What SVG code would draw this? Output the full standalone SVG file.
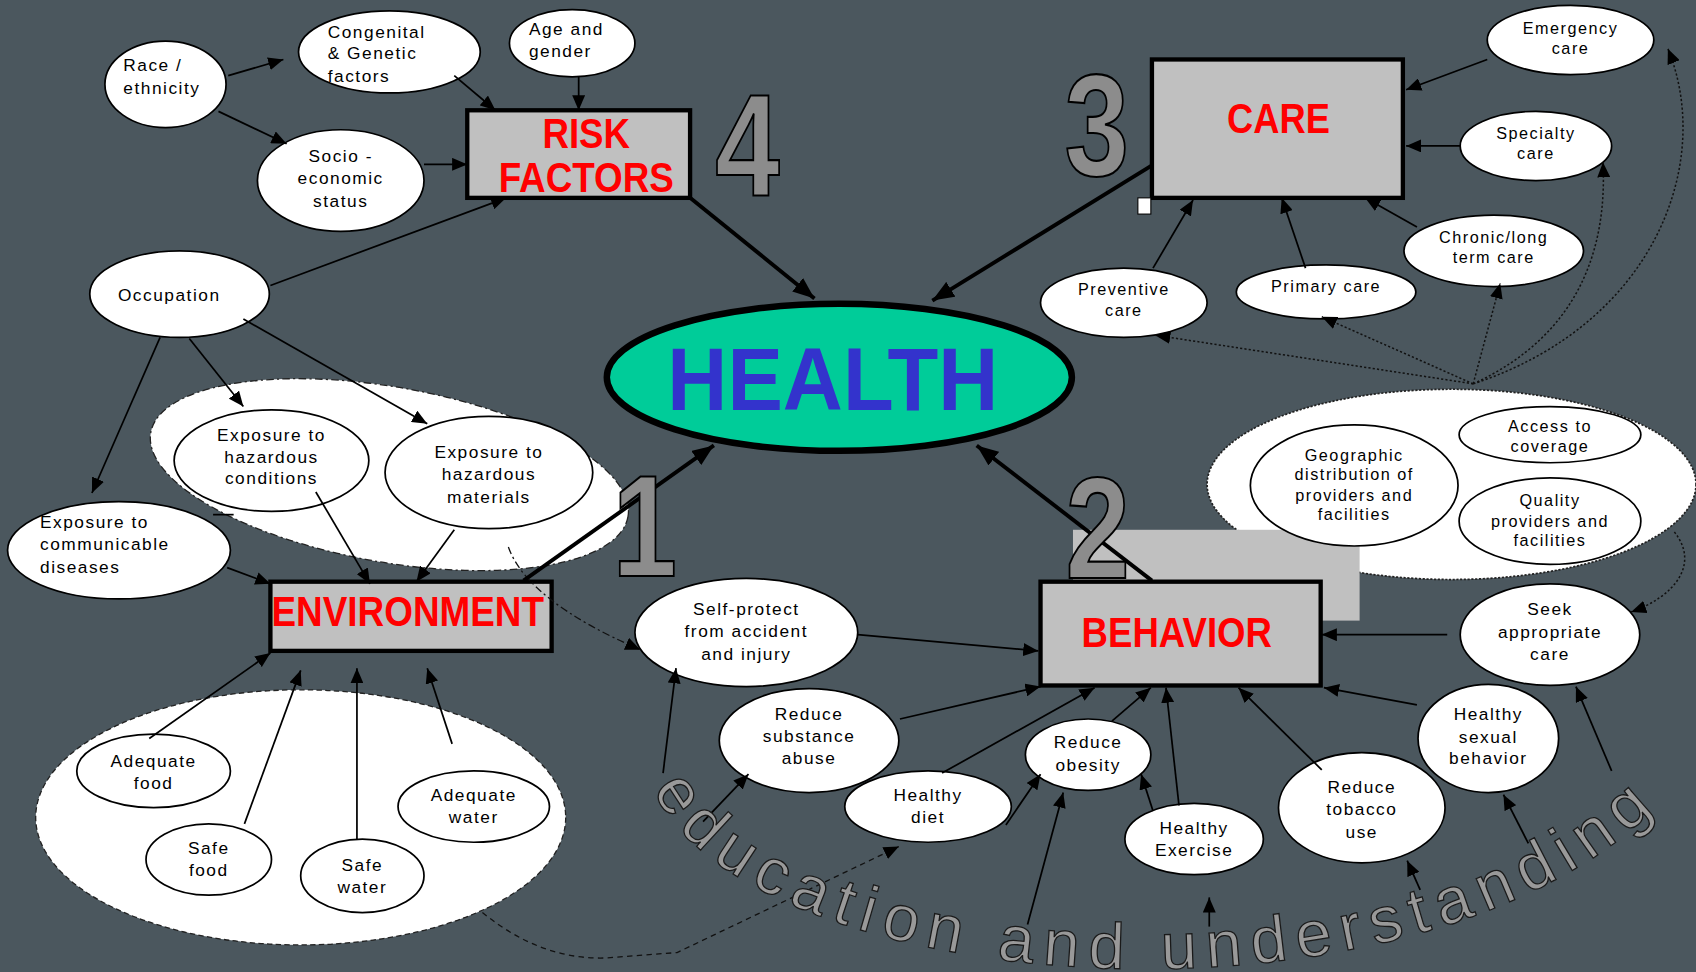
<svg xmlns="http://www.w3.org/2000/svg" width="1696" height="972" viewBox="0 0 1696 972">
<defs>
<style>
.n{fill:#fff;stroke:#000;stroke-width:1.6}
.t{font-family:"Liberation Sans",Arial,sans-serif;font-size:16px;letter-spacing:1.4px;fill:#000}
.tr{font-family:"Liberation Sans",Arial,sans-serif;font-size:15px;letter-spacing:1.4px;fill:#000}
.m{text-anchor:middle}
.box{fill:#c0c0c0;stroke:#000;stroke-width:4}
.bt{font-family:"Liberation Sans",Arial,sans-serif;font-weight:bold;font-size:40px;fill:#ff0000;text-anchor:middle}
.num{font-family:"Liberation Sans",Arial,sans-serif;font-weight:bold;font-size:134px;fill:#8c8c8c;stroke:#000;stroke-width:2;text-anchor:middle}
.c{fill:none;stroke:#000;stroke-width:1.6}
.ck{fill:none;stroke:#000;stroke-width:3.6}
.dot{fill:none;stroke:#111;stroke-width:1.4;stroke-dasharray:2 2}
.dash{fill:none;stroke:#111;stroke-width:1.2;stroke-dasharray:5 4}
.dd{fill:none;stroke:#111;stroke-width:1.2;stroke-dasharray:7 3 2 3}
</style>
<marker id="a" viewBox="0 0 14 12" refX="14" refY="6" markerWidth="14" markerHeight="12" markerUnits="userSpaceOnUse" orient="auto"><path d="M0,0 L14,6 L0,12 z" fill="#000"/></marker>
<marker id="b" viewBox="0 0 20 16" refX="20" refY="8" markerWidth="20" markerHeight="16" markerUnits="userSpaceOnUse" orient="auto"><path d="M0,0 L20,8 L0,16 z" fill="#000"/></marker>
<path id="arc" d="M604,730 C690,925 1330,978 1552,726"/>
</defs>
<rect width="1696" height="972" fill="#4b575e"/>
<g transform="scale(1.08163,1.0812)">

<g id="groups">
<ellipse cx="360" cy="439" rx="224" ry="81" transform="rotate(10 360 439)" fill="#fff" stroke="#222" stroke-width="1.2" stroke-dasharray="7 3 2 3"/>
<ellipse cx="278" cy="756" rx="245" ry="118" fill="#fff" stroke="#222" stroke-width="1.2" stroke-dasharray="5 3"/>
<ellipse cx="1342" cy="448" rx="226" ry="88" fill="#fff" stroke="#222" stroke-width="1.6" stroke-dasharray="2 1.5"/>
<rect x="992" y="490" width="265" height="84" fill="#c0c0c0"/>
</g>

<g id="health">
<ellipse cx="776" cy="349" rx="215" ry="68" fill="#00cc99" stroke="#000" stroke-width="6"/>
<text x="770" y="379" font-family="Liberation Sans,Arial,sans-serif" font-weight="bold" font-size="82" fill="#3333cc" text-anchor="middle" textLength="306" lengthAdjust="spacingAndGlyphs">HEALTH</text>
</g>

<g id="riskfactors">
<rect class="box" x="432" y="102" width="206" height="81"/>
<text class="bt" x="542" y="137" textLength="81" lengthAdjust="spacingAndGlyphs">RISK</text>
<text class="bt" x="542" y="178" textLength="162" lengthAdjust="spacingAndGlyphs">FACTORS</text>
</g>
<g id="environment">
<rect class="box" x="250" y="538" width="260" height="64"/>
<text class="bt" x="377" y="579" textLength="252" lengthAdjust="spacingAndGlyphs">ENVIRONMENT</text>
</g>
<g id="care">
<rect class="box" x="1065" y="55" width="232" height="128"/>
<text class="bt" x="1182" y="123" textLength="95" lengthAdjust="spacingAndGlyphs">CARE</text>
<rect x="1052" y="183" width="12" height="15" fill="#fff" stroke="#000" stroke-width="1"/>
</g>
<g id="behavior">
<rect class="box" x="962" y="538" width="259" height="96"/>
<text class="bt" x="1088" y="598" textLength="176" lengthAdjust="spacingAndGlyphs">BEHAVIOR</text>
</g>

<g id="race"><ellipse class="n" cx="153" cy="78" rx="56" ry="40"/><text class="t" x="114" y="66">Race /</text><text class="t" x="114" y="87">ethnicity</text></g>
<g id="congenital"><ellipse class="n" cx="360" cy="48" rx="84" ry="38"/><text class="t" x="303" y="35">Congenital</text><text class="t" x="303" y="55">&amp; Genetic</text><text class="t" x="303" y="76">factors</text></g>
<g id="age"><ellipse class="n" cx="529" cy="40" rx="58" ry="31"/><text class="t" x="489" y="32">Age and</text><text class="t" x="489" y="53">gender</text></g>
<g id="socio"><ellipse class="n" cx="315" cy="167" rx="77" ry="47"/><text class="t m" x="315" y="150">Socio -</text><text class="t m" x="315" y="170">economic</text><text class="t m" x="315" y="191">status</text></g>
<g id="occupation"><ellipse class="n" cx="166" cy="272" rx="83" ry="40"/><text class="t" x="109" y="278">Occupation</text></g>
<g id="hazcond"><ellipse class="n" cx="251" cy="426" rx="90" ry="47"/><text class="t m" x="251" y="408">Exposure to</text><text class="t m" x="251" y="428">hazardous</text><text class="t m" x="251" y="448">conditions</text></g>
<g id="hazmat"><ellipse class="n" cx="452" cy="437" rx="96" ry="52"/><text class="t m" x="452" y="424">Exposure to</text><text class="t m" x="452" y="444">hazardous</text><text class="t m" x="452" y="465">materials</text></g>
<g id="communicable"><ellipse class="n" cx="110" cy="509" rx="103" ry="45"/><text class="t" x="37" y="488">Exposure to</text><text class="t" x="37" y="509">communicable</text><text class="t" x="37" y="530">diseases</text></g>
<g id="adfood"><ellipse class="n" cx="142" cy="713" rx="71" ry="34"/><text class="t m" x="142" y="709">Adequate</text><text class="t m" x="142" y="730">food</text></g>
<g id="safefood"><ellipse class="n" cx="193" cy="795" rx="58" ry="33"/><text class="t m" x="193" y="790">Safe</text><text class="t m" x="193" y="810">food</text></g>
<g id="safewater"><ellipse class="n" cx="335" cy="810" rx="57" ry="34"/><text class="t m" x="335" y="806">Safe</text><text class="t m" x="335" y="826">water</text></g>
<g id="adwater"><ellipse class="n" cx="438" cy="746" rx="70" ry="33"/><text class="t m" x="438" y="741">Adequate</text><text class="t m" x="438" y="761">water</text></g>
<g id="selfprotect"><ellipse class="n" cx="690" cy="585" rx="103" ry="50"/><text class="t m" x="690" y="569">Self-protect</text><text class="t m" x="690" y="589">from accident</text><text class="t m" x="690" y="610">and injury</text></g>
<g id="substance"><ellipse class="n" cx="748" cy="685" rx="83" ry="48"/><text class="t m" x="748" y="666">Reduce</text><text class="t m" x="748" y="686">substance</text><text class="t m" x="748" y="707">abuse</text></g>
<g id="diet"><ellipse class="n" cx="858" cy="746" rx="77" ry="33"/><text class="t m" x="858" y="741">Healthy</text><text class="t m" x="858" y="761">diet</text></g>
<g id="obesity"><ellipse class="n" cx="1006" cy="698" rx="58" ry="33"/><text class="t m" x="1006" y="692">Reduce</text><text class="t m" x="1006" y="713">obesity</text></g>
<g id="exercise"><ellipse class="n" cx="1104" cy="776" rx="64" ry="33"/><text class="t m" x="1104" y="771">Healthy</text><text class="t m" x="1104" y="792">Exercise</text></g>
<g id="tobacco"><ellipse class="n" cx="1259" cy="747" rx="77" ry="51"/><text class="t m" x="1259" y="733">Reduce</text><text class="t m" x="1259" y="754">tobacco</text><text class="t m" x="1259" y="775">use</text></g>
<g id="sexual"><ellipse class="n" cx="1376" cy="683" rx="65" ry="50"/><text class="t m" x="1376" y="666">Healthy</text><text class="t m" x="1376" y="687">sexual</text><text class="t m" x="1376" y="707">behavior</text></g>
<g id="seek"><ellipse class="n" cx="1433" cy="587" rx="83" ry="47"/><text class="t m" x="1433" y="569">Seek</text><text class="t m" x="1433" y="590">appropriate</text><text class="t m" x="1433" y="610">care</text></g>
<g id="geographic"><ellipse class="n" cx="1252" cy="449" rx="96" ry="56"/><text class="tr m" x="1252" y="426">Geographic</text><text class="tr m" x="1252" y="444">distribution of</text><text class="tr m" x="1252" y="463">providers and</text><text class="tr m" x="1252" y="481">facilities</text></g>
<g id="access"><ellipse class="n" cx="1433" cy="402" rx="84" ry="26"/><text class="tr m" x="1433" y="400">Access to</text><text class="tr m" x="1433" y="418">coverage</text></g>
<g id="quality"><ellipse class="n" cx="1433" cy="482" rx="84" ry="40"/><text class="tr m" x="1433" y="468">Quality</text><text class="tr m" x="1433" y="487">providers and</text><text class="tr m" x="1433" y="505">facilities</text></g>
<g id="emergency"><ellipse class="n" cx="1452" cy="37" rx="77" ry="32"/><text class="tr m" x="1452" y="31">Emergency</text><text class="tr m" x="1452" y="50">care</text></g>
<g id="specialty"><ellipse class="n" cx="1420" cy="135" rx="70" ry="32"/><text class="tr m" x="1420" y="129">Specialty</text><text class="tr m" x="1420" y="147">care</text></g>
<g id="chronic"><ellipse class="n" cx="1381" cy="232" rx="83" ry="33"/><text class="tr m" x="1381" y="225">Chronic/long</text><text class="tr m" x="1381" y="243">term care</text></g>
<g id="primary"><ellipse class="n" cx="1226" cy="270" rx="83" ry="25"/><text class="tr m" x="1226" y="270">Primary care</text></g>
<g id="preventive"><ellipse class="n" cx="1039" cy="280" rx="77" ry="32"/><text class="tr m" x="1039" y="273">Preventive</text><text class="tr m" x="1039" y="292">care</text></g>

<g id="connectors">
<path class="c" d="M211,70 L262,55" marker-end="url(#a)"/>
<path class="c" d="M202,103 L265,133" marker-end="url(#a)"/>
<path class="c" d="M420,70 L458,102" marker-end="url(#a)"/>
<path class="c" d="M535,71 L535,102" marker-end="url(#a)"/>
<path class="c" d="M392,152 L432,152" marker-end="url(#a)"/>
<path class="c" d="M250,264 L468,183" marker-end="url(#a)"/>
<path class="c" d="M148,312 L85,456" marker-end="url(#a)"/>
<path class="c" d="M175,313 L225,376" marker-end="url(#a)"/>
<path class="c" d="M225,295 L395,392" marker-end="url(#a)"/>
<path class="c" d="M197,476 L216,476" stroke-width="2.5"/>
<path class="c" d="M210,525 L250,540" marker-end="url(#a)"/>
<path class="c" d="M292,455 L342,540" marker-end="url(#a)"/>
<path class="c" d="M420,490 L385,538" marker-end="url(#a)"/>
<path class="c" d="M138,683 L250,604" marker-end="url(#a)"/>
<path class="c" d="M226,762 L278,620" marker-end="url(#a)"/>
<path class="c" d="M330,777 L330,618" marker-end="url(#a)"/>
<path class="c" d="M418,688 L395,618" marker-end="url(#a)"/>
<path class="dd" d="M470,506 Q488,556 592,601" marker-end="url(#a)"/>
<path class="dash" d="M446,844 Q500,888 560,886 L626,881 L831,783" marker-end="url(#a)"/>
<path class="c" d="M1375,55 L1300,83" marker-end="url(#a)"/>
<path class="c" d="M1350,135 L1300,135" marker-end="url(#a)"/>
<path class="c" d="M1310,210 L1262,183" marker-end="url(#a)"/>
<path class="c" d="M1207,248 L1185,183" marker-end="url(#a)"/>
<path class="c" d="M1066,248 L1103,185" marker-end="url(#a)"/>
<path class="dot" d="M1362,355 L1068,310" marker-end="url(#a)"/>
<path class="dot" d="M1362,355 L1222,293" marker-end="url(#a)"/>
<path class="dot" d="M1362,355 L1387,262" marker-end="url(#a)"/>
<path class="dot" d="M1362,355 C1460,310 1486,230 1482,150" marker-end="url(#a)"/>
<path class="dot" d="M1362,355 C1530,300 1585,150 1542,45" marker-end="url(#a)"/>
<path class="dot" d="M1548,492 C1572,522 1548,552 1508,566" marker-end="url(#a)"/>
<path class="c" d="M1338,587 L1222,587" marker-end="url(#a)"/>
<path class="c" d="M793,587 L960,602" marker-end="url(#a)"/>
<path class="c" d="M613,715 L625,618" marker-end="url(#a)"/>
<path class="c" d="M832,665 L962,635" marker-end="url(#a)"/>
<path class="c" d="M650,760 L692,716" marker-end="url(#a)"/>
<path class="c" d="M871,715 L1012,636" marker-end="url(#a)"/>
<path class="c" d="M930,763 L962,716" marker-end="url(#a)"/>
<path class="c" d="M1028,667 L1064,636" marker-end="url(#a)"/>
<path class="c" d="M950,855 L983,733" marker-end="url(#a)"/>
<path class="c" d="M1066,750 L1055,716" marker-end="url(#a)"/>
<path class="c" d="M1090,745 L1078,636" marker-end="url(#a)"/>
<path class="c" d="M1118,857 L1118,830" marker-end="url(#a)"/>
<path class="c" d="M1222,712 L1145,636" marker-end="url(#a)"/>
<path class="c" d="M1313,823 L1301,796" marker-end="url(#a)"/>
<path class="c" d="M1310,652 L1224,636" marker-end="url(#a)"/>
<path class="c" d="M1413,780 L1390,735" marker-end="url(#a)"/>
<path class="c" d="M1490,713 L1457,635" marker-end="url(#a)"/>
<path class="ck" d="M638,183 L753,276" marker-end="url(#b)"/>
<path class="ck" d="M1065,153 L862,278" marker-end="url(#b)"/>
<path class="ck" d="M484,537 L660,412" marker-end="url(#b)"/>
<path class="ck" d="M1065,537 L903,412" marker-end="url(#b)"/>
</g>

<g id="numbers">
<text class="num" transform="translate(691,180) scale(0.8,1)">4</text>
<text class="num" transform="translate(1014,162) scale(0.8,1)">3</text>
<text class="num" transform="translate(596,533) scale(0.8,1)">1</text>
<text class="num" transform="translate(1015,535) scale(0.8,1)">2</text>
</g>

<g id="caption">
<text font-family="Liberation Sans,Arial,sans-serif" font-size="60" fill="#999" stroke="#1a1a1a" stroke-width="1.2" letter-spacing="9"><textPath href="#arc">education and understanding</textPath></text>
</g>
</g>
</svg>
